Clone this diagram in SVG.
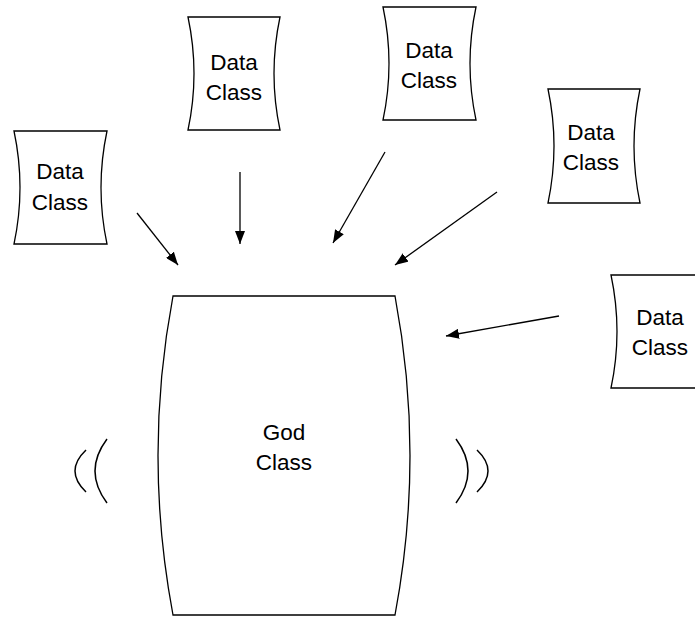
<svg xmlns="http://www.w3.org/2000/svg" width="695" height="617" viewBox="0 0 695 617">
<style>
.shape{fill:#fff;stroke:#000;stroke-width:1.3}
.lbl{font-family:"Liberation Sans",Arial,sans-serif;font-size:22.5px;fill:#000;text-anchor:middle}
.conn{stroke:#000;stroke-width:1.3;fill:none}
.brk{stroke:#000;stroke-width:1.5;fill:none}
</style>
<defs>
<marker id="arr" viewBox="0 0 13 10" refX="13" refY="5" markerWidth="13" markerHeight="10" markerUnits="userSpaceOnUse" orient="auto">
<path d="M0,0 L13,5 L0,10 Z" fill="#000"/>
</marker>
</defs>
<rect width="695" height="617" fill="#fff"/>
<g id="data1">
<path class="shape" d="M14,131 L107,131 Q95,187.5 107,244 L14,244 Q26,187.5 14,131 Z"/>
<text class="lbl" x="60" y="179">Data</text>
<text class="lbl" x="60" y="210">Class</text>
</g>
<g id="data2">
<path class="shape" d="M188,17 L280,17 Q268,73.5 280,130 L188,130 Q200,73.5 188,17 Z"/>
<text class="lbl" x="234" y="70">Data</text>
<text class="lbl" x="234" y="100">Class</text>
</g>
<g id="data3">
<path class="shape" d="M383,7 L476,7 Q464,63.5 476,120 L383,120 Q395,63.5 383,7 Z"/>
<text class="lbl" x="429" y="58">Data</text>
<text class="lbl" x="429" y="88">Class</text>
</g>
<g id="data4">
<path class="shape" d="M548,89 L640,89 Q628,146 640,203 L548,203 Q560,146 548,89 Z"/>
<text class="lbl" x="591" y="140">Data</text>
<text class="lbl" x="591" y="170">Class</text>
</g>
<g id="data5">
<path class="shape" d="M611,275 L704,275 Q692,331.5 704,388 L611,388 Q623,331.5 611,275 Z"/>
<text class="lbl" x="660" y="325">Data</text>
<text class="lbl" x="660" y="355">Class</text>
</g>
<g id="god">
<path class="shape" d="M173,296 L395,296 Q425,455.5 395,615 L173,615 Q143,455.5 173,296 Z"/>
<text class="lbl" x="284" y="440">God</text>
<text class="lbl" x="284" y="470">Class</text>
</g>
<g id="brackets">
<path class="brk" d="M86,450 Q64,471 86,492"/>
<path class="brk" d="M107,439 Q83,471 107,503"/>
<path class="brk" d="M456,439 Q480,471 456,503"/>
<path class="brk" d="M477,450 Q499,471 477,492"/>
</g>
<g id="connectors">
<line class="conn" x1="137" y1="213" x2="178" y2="265" marker-end="url(#arr)"/>
<line class="conn" x1="240" y1="172" x2="240" y2="244" marker-end="url(#arr)"/>
<line class="conn" x1="385" y1="152" x2="333" y2="243" marker-end="url(#arr)"/>
<line class="conn" x1="497" y1="192" x2="395" y2="265" marker-end="url(#arr)"/>
<line class="conn" x1="559" y1="316" x2="446" y2="336" marker-end="url(#arr)"/>
</g>
</svg>
